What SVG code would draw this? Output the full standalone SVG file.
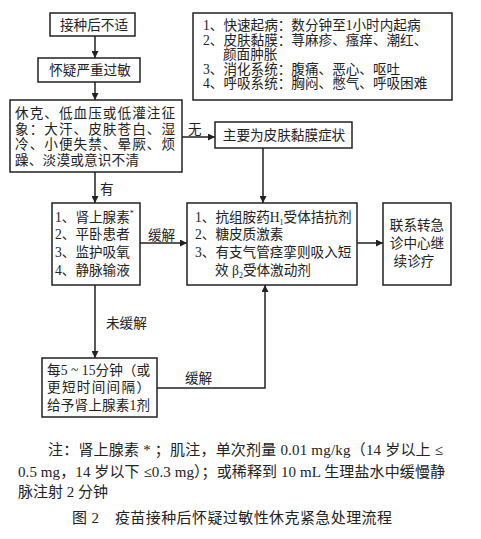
<svg xmlns="http://www.w3.org/2000/svg" width="481" height="539" viewBox="0 0 481 539">
<style>
.box{fill:#fff;stroke:#222;stroke-width:1.5}
.t{font-family:"Liberation Serif","Noto Sans CJK SC",serif;font-size:13.6px;fill:#222}
.c{text-anchor:middle}
.ln{fill:none;stroke:#222;stroke-width:1.5}
.note{font-family:"Liberation Serif","Noto Sans CJK SC",serif;font-size:15px;fill:#222}
</style>
<defs>
<marker id="ar" viewBox="0 0 10 10" refX="10" refY="5" markerWidth="7" markerHeight="7" markerUnits="userSpaceOnUse" orient="auto">
<path d="M0,0 L10,5 L0,10 z" fill="#222"/>
</marker>
</defs>
<rect width="481" height="539" fill="#fff"/>

<g id="connectors">
<line class="ln" x1="95" y1="36" x2="95" y2="58" marker-end="url(#ar)"/>
<line class="ln" x1="95" y1="82" x2="95" y2="100" marker-end="url(#ar)"/>
<line class="ln" x1="182" y1="137" x2="215" y2="137" marker-end="url(#ar)"/>
<line class="ln" x1="95" y1="172" x2="95" y2="203" marker-end="url(#ar)"/>
<line class="ln" x1="263" y1="148" x2="263" y2="203" marker-end="url(#ar)"/>
<line class="ln" x1="140" y1="243" x2="187" y2="243" marker-end="url(#ar)"/>
<line class="ln" x1="357" y1="243" x2="383" y2="243" marker-end="url(#ar)"/>
<line class="ln" x1="95" y1="285" x2="95" y2="358" marker-end="url(#ar)"/>
<polyline class="ln" points="157,388 265,388 265,285" marker-end="url(#ar)"/>
<text class="t" x="188" y="134">无</text>
<text class="t" x="100" y="194">有</text>
<text class="t" x="148" y="240">缓解</text>
<text class="t" x="106" y="328">未缓解</text>
<text class="t" x="185" y="383">缓解</text>
</g>

<g id="n1">
<rect class="box" x="50" y="13" width="85" height="23"/>
<text class="t c" x="94" y="30" font-size="15">接种后不适</text>
</g>

<g id="n2">
<rect class="box" x="38" y="58" width="102" height="24"/>
<text class="t c" x="90" y="75" font-size="14">怀疑严重过敏</text>
</g>

<g id="n3">
<rect class="box" x="10" y="100" width="172" height="72"/>
<text class="t" x="15" y="118" textLength="160" lengthAdjust="spacing">休克、低血压或低灌注征</text>
<text class="t" x="15" y="134" textLength="160" lengthAdjust="spacing">象：大汗、皮肤苍白、湿</text>
<text class="t" x="15" y="149" textLength="160" lengthAdjust="spacing">冷、小便失禁、晕厥、烦</text>
<text class="t" x="15" y="165" textLength="124" lengthAdjust="spacing">躁、淡漠或意识不清</text>
</g>

<g id="n_symptoms">
<rect class="box" x="193" y="13" width="259" height="87"/>
<text class="t" x="203" y="30">1、快速起病：数分钟至1小时内起病</text>
<text class="t" x="203" y="44.5">2、皮肤黏膜：荨麻疹、瘙痒、潮红、</text>
<text class="t" x="223" y="59">颜面肿胀</text>
<text class="t" x="203" y="73.5">3、消化系统：腹痛、恶心、呕吐</text>
<text class="t" x="203" y="88">4、呼吸系统：胸闷、憋气、呼吸困难</text>
</g>

<g id="n_skin">
<rect class="box" x="215" y="122" width="137" height="26"/>
<text class="t c" x="284" y="140">主要为皮肤黏膜症状</text>
</g>

<g id="n4">
<rect class="box" x="52" y="203" width="88" height="82"/>
<text class="t" x="55" y="222">1、肾上腺素<tspan font-size="8" dy="-6">*</tspan></text>
<text class="t" x="55" y="239">2、平卧患者</text>
<text class="t" x="55" y="257">3、监护吸氧</text>
<text class="t" x="55" y="275">4、静脉输液</text>
</g>

<g id="n5">
<rect class="box" x="187" y="203" width="170" height="82"/>
<text class="t" x="195" y="222">1、抗组胺药H<tspan font-size="8" dy="3">1</tspan><tspan dy="-3">受体拮抗剂</tspan></text>
<text class="t" x="195" y="239">2、糖皮质激素</text>
<text class="t" x="195" y="257">3、有支气管痉挛则吸入短</text>
<text class="t" x="215" y="275">效 β<tspan font-size="8" dy="3">2</tspan><tspan dy="-3">受体激动剂</tspan></text>
</g>

<g id="n6">
<rect class="box" x="383" y="203" width="68" height="82"/>
<text class="t c" x="417" y="230">联系转急</text>
<text class="t c" x="417" y="248">诊中心继</text>
<text class="t c" x="414" y="266">续诊疗</text>
</g>

<g id="n7">
<rect class="box" x="42" y="358" width="115" height="59"/>
<text class="t" x="47" y="375" textLength="103" lengthAdjust="spacing">每5 ~ 15分钟（或</text>
<text class="t" x="47" y="392" textLength="103" lengthAdjust="spacing">更短时间间隔）</text>
<text class="t" x="47" y="410" textLength="103" lengthAdjust="spacing">给予肾上腺素1剂</text>
</g>

<g id="note">
<text class="note" x="48" y="455" textLength="395" lengthAdjust="spacing">注：肾上腺素 * ；肌注，单次剂量 0.01 mg/kg（14 岁以上 ≤</text>
<text class="note" x="18" y="477" textLength="427" lengthAdjust="spacing">0.5 mg，14 岁以下 ≤0.3 mg）；或稀释到 10 mL 生理盐水中缓慢静</text>
<text class="note" x="18" y="497">脉注射 2 分钟</text>
<text class="note" x="72" y="523" textLength="320" lengthAdjust="spacing">图 2　疫苗接种后怀疑过敏性休克紧急处理流程</text>
</g>
</svg>
